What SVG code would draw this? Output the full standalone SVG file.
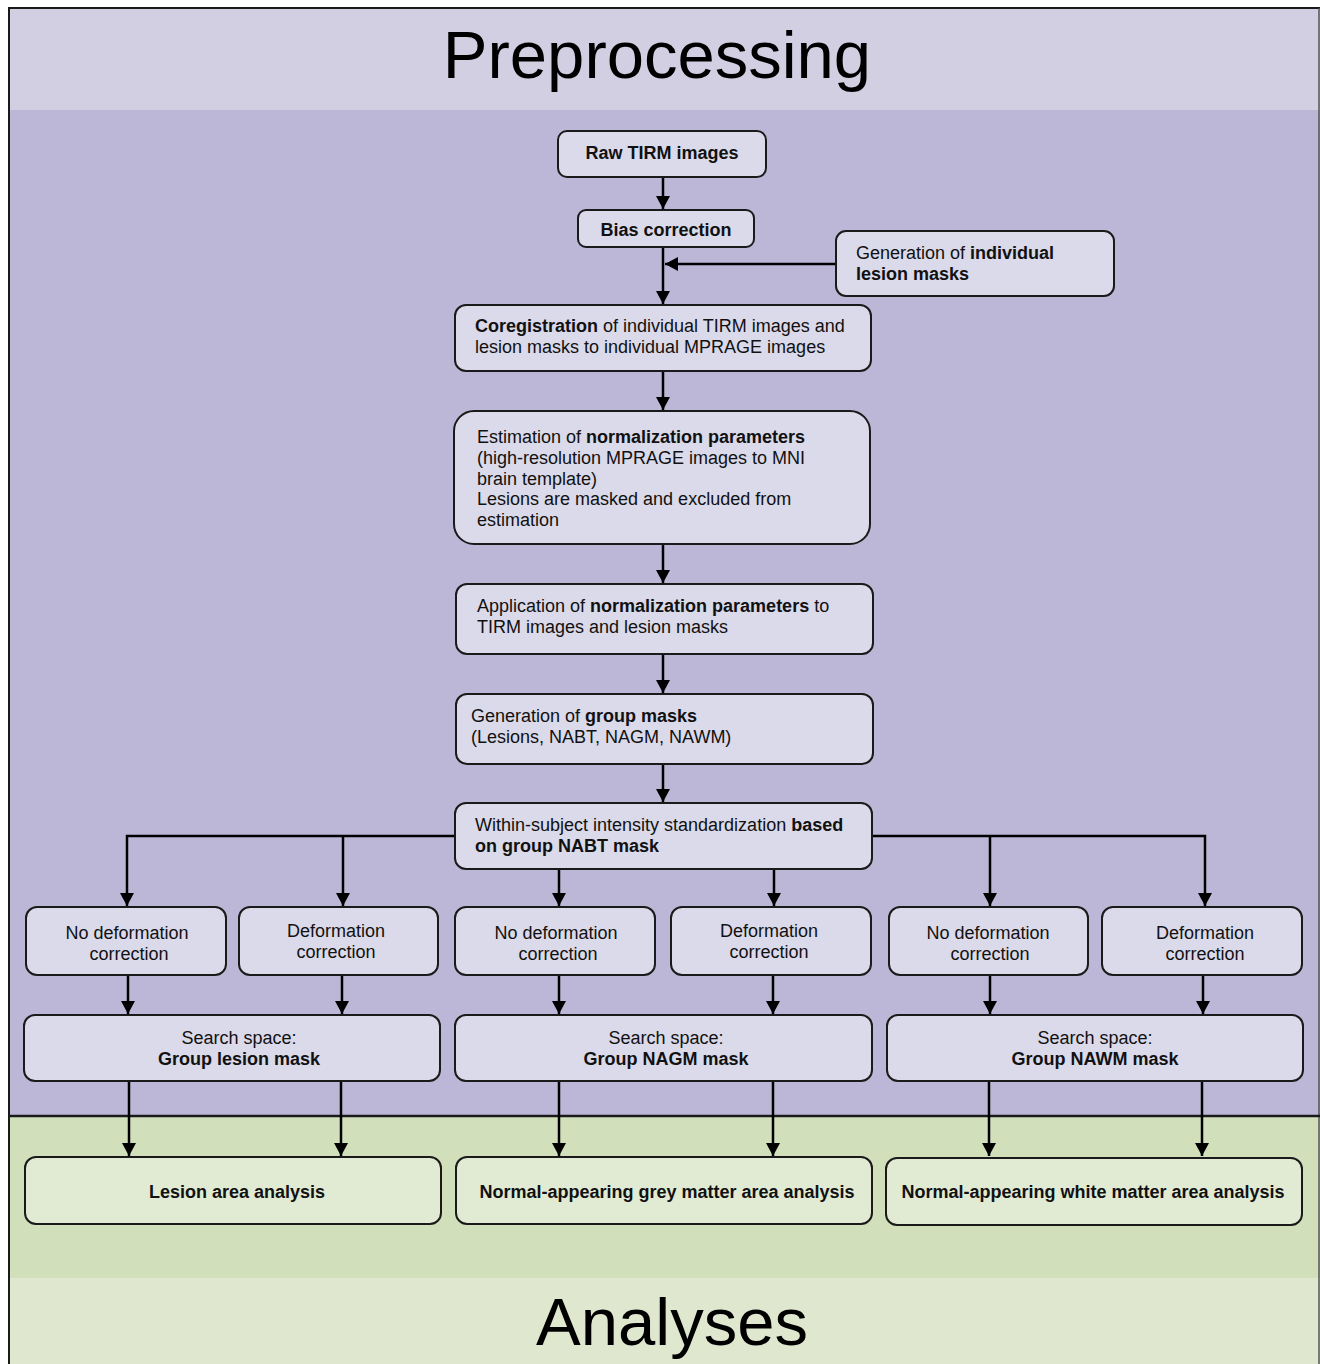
<svg xmlns="http://www.w3.org/2000/svg" width="1320" height="1364" viewBox="0 0 1320 1364">
<style>
.t{font-family:"Liberation Sans",Arial,sans-serif;font-size:18px;fill:#111;}
.b{font-weight:bold;}
.c{text-anchor:middle;}
.box{fill:#dbdaea;stroke:#1a1a1a;stroke-width:2;}
.gbox{fill:#e1ead3;stroke:#1a1a1a;stroke-width:2;}
.ln{fill:none;stroke:#000;stroke-width:2.5;}
.big{font-family:"Liberation Sans",Arial,sans-serif;font-size:67px;fill:#000;text-anchor:middle;}
</style>
<defs>
<marker id="ah" markerUnits="userSpaceOnUse" markerWidth="14" markerHeight="14" viewBox="0 0 14 14" refX="13" refY="7" orient="auto">
<path d="M0,0 L13,7 L0,14 Z" fill="#000"/>
</marker>
</defs>
<rect x="0" y="0" width="1320" height="1364" fill="#ffffff"/>
<g id="bands">
<rect x="9" y="8" width="1311" height="102" fill="#d2cfe3"/>
<rect x="9" y="110" width="1311" height="1006" fill="#bcb7d6"/>
<rect x="9" y="1116" width="1311" height="162" fill="#d1dfbb"/>
<rect x="9" y="1278" width="1311" height="86" fill="#dfe8cf"/>
<line x1="9" y1="8" x2="1320" y2="8" stroke="#1a1a1a" stroke-width="2"/>
<line x1="9" y1="7" x2="9" y2="1364" stroke="#1a1a1a" stroke-width="2"/>
<line x1="1319" y1="8" x2="1319" y2="1364" stroke="#555" stroke-width="1.5"/>
<line x1="9" y1="1116" x2="1320" y2="1116" stroke="#1a1a1a" stroke-width="2.5"/>
<text class="big" x="657" y="78">Preprocessing</text>
<text class="big" x="672" y="1345">Analyses</text>
</g>
<g id="connectors">
<line class="ln" x1="663" y1="177" x2="663" y2="209" marker-end="url(#ah)"/>
<line class="ln" x1="663" y1="247" x2="663" y2="304" marker-end="url(#ah)"/>
<line class="ln" x1="836" y1="264" x2="665" y2="264" marker-end="url(#ah)"/>
<line class="ln" x1="663" y1="371" x2="663" y2="410" marker-end="url(#ah)"/>
<line class="ln" x1="663" y1="544" x2="663" y2="583" marker-end="url(#ah)"/>
<line class="ln" x1="663" y1="654" x2="663" y2="693" marker-end="url(#ah)"/>
<line class="ln" x1="663" y1="764" x2="663" y2="802" marker-end="url(#ah)"/>
<polyline class="ln" points="455,836 127,836 127,906" marker-end="url(#ah)"/>
<line class="ln" x1="343" y1="836" x2="343" y2="906" marker-end="url(#ah)"/>
<polyline class="ln" points="872,836 1205,836 1205,906" marker-end="url(#ah)"/>
<line class="ln" x1="990" y1="836" x2="990" y2="906" marker-end="url(#ah)"/>
<line class="ln" x1="559" y1="869" x2="559" y2="906" marker-end="url(#ah)"/>
<line class="ln" x1="774" y1="869" x2="774" y2="906" marker-end="url(#ah)"/>
<line class="ln" x1="128" y1="975" x2="128" y2="1014" marker-end="url(#ah)"/>
<line class="ln" x1="342" y1="975" x2="342" y2="1014" marker-end="url(#ah)"/>
<line class="ln" x1="559" y1="975" x2="559" y2="1014" marker-end="url(#ah)"/>
<line class="ln" x1="773" y1="975" x2="773" y2="1014" marker-end="url(#ah)"/>
<line class="ln" x1="990" y1="975" x2="990" y2="1014" marker-end="url(#ah)"/>
<line class="ln" x1="1203" y1="975" x2="1203" y2="1014" marker-end="url(#ah)"/>
<line class="ln" x1="129" y1="1081" x2="129" y2="1156" marker-end="url(#ah)"/>
<line class="ln" x1="341" y1="1081" x2="341" y2="1156" marker-end="url(#ah)"/>
<line class="ln" x1="559" y1="1081" x2="559" y2="1156" marker-end="url(#ah)"/>
<line class="ln" x1="773" y1="1081" x2="773" y2="1156" marker-end="url(#ah)"/>
<line class="ln" x1="989" y1="1081" x2="989" y2="1156" marker-end="url(#ah)"/>
<line class="ln" x1="1202" y1="1081" x2="1202" y2="1156" marker-end="url(#ah)"/>
</g>
<g id="raw">
<rect class="box" x="558" y="131" width="208" height="46" rx="9"/>
<text class="t b c" x="662" y="159">Raw TIRM images</text>
</g>
<g id="bias">
<rect class="box" x="578" y="210" width="176" height="37" rx="8"/>
<text class="t b c" x="666" y="236">Bias correction</text>
</g>
<g id="genlesion">
<rect class="box" x="836" y="231" width="278" height="65" rx="10"/>
<text class="t" x="856" y="259">Generation of <tspan class="b">individual</tspan></text>
<text class="t b" x="856" y="280">lesion masks</text>
</g>
<g id="coreg">
<rect class="box" x="455" y="305" width="416" height="66" rx="11"/>
<text class="t" x="475" y="332"><tspan class="b">Coregistration</tspan> of individual TIRM images and</text>
<text class="t" x="475" y="353">lesion masks to individual MPRAGE images</text>
</g>
<g id="estim">
<rect class="box" x="454" y="411" width="416" height="133" rx="20"/>
<text class="t" x="477" y="443">Estimation of <tspan class="b">normalization parameters</tspan></text>
<text class="t" x="477" y="464">(high-resolution MPRAGE images to MNI</text>
<text class="t" x="477" y="485">brain template)</text>
<text class="t" x="477" y="505">Lesions are masked and excluded from</text>
<text class="t" x="477" y="526">estimation</text>
</g>
<g id="applic">
<rect class="box" x="456" y="584" width="417" height="70" rx="11"/>
<text class="t" x="477" y="612">Application of <tspan class="b">normalization parameters</tspan> to</text>
<text class="t" x="477" y="633">TIRM images and lesion masks</text>
</g>
<g id="groupmasks">
<rect class="box" x="456" y="694" width="417" height="70" rx="11"/>
<text class="t" x="471" y="722">Generation of <tspan class="b">group masks</tspan></text>
<text class="t" x="471" y="743">(Lesions, NABT, NAGM, NAWM)</text>
</g>
<g id="within">
<rect class="box" x="455" y="803" width="417" height="66" rx="11"/>
<text class="t" x="475" y="831">Within-subject intensity standardization <tspan class="b">based</tspan></text>
<text class="t b" x="475" y="852">on group NABT mask</text>
</g>
<g id="nodef1">
<rect class="box" x="26" y="907" width="200" height="68" rx="11"/>
<text class="t c" x="127" y="939">No deformation</text>
<text class="t c" x="129" y="960">correction</text>
</g>
<g id="def1">
<rect class="box" x="239" y="907" width="199" height="68" rx="11"/>
<text class="t c" x="336" y="937">Deformation</text>
<text class="t c" x="336" y="958">correction</text>
</g>
<g id="nodef2">
<rect class="box" x="455" y="907" width="200" height="68" rx="11"/>
<text class="t c" x="556" y="939">No deformation</text>
<text class="t c" x="558" y="960">correction</text>
</g>
<g id="def2">
<rect class="box" x="671" y="907" width="200" height="68" rx="11"/>
<text class="t c" x="769" y="937">Deformation</text>
<text class="t c" x="769" y="958">correction</text>
</g>
<g id="nodef3">
<rect class="box" x="889" y="907" width="199" height="68" rx="11"/>
<text class="t c" x="988" y="939">No deformation</text>
<text class="t c" x="990" y="960">correction</text>
</g>
<g id="def3">
<rect class="box" x="1102" y="907" width="200" height="68" rx="11"/>
<text class="t c" x="1205" y="939">Deformation</text>
<text class="t c" x="1205" y="960">correction</text>
</g>
<g id="search1">
<rect class="box" x="24" y="1015" width="416" height="66" rx="11"/>
<text class="t c" x="239" y="1044">Search space:</text>
<text class="t b c" x="239" y="1065">Group lesion mask</text>
</g>
<g id="search2">
<rect class="box" x="455" y="1015" width="417" height="66" rx="11"/>
<text class="t c" x="666" y="1044">Search space:</text>
<text class="t b c" x="666" y="1065">Group NAGM mask</text>
</g>
<g id="search3">
<rect class="box" x="887" y="1015" width="416" height="66" rx="11"/>
<text class="t c" x="1095" y="1044">Search space:</text>
<text class="t b c" x="1095" y="1065">Group NAWM mask</text>
</g>
<g id="lesionanalysis">
<rect class="gbox" x="25" y="1157" width="416" height="67" rx="11"/>
<text class="t b c" x="237" y="1198">Lesion area analysis</text>
</g>
<g id="greyanalysis">
<rect class="gbox" x="456" y="1157" width="416" height="67" rx="11"/>
<text class="t b c" x="667" y="1198">Normal-appearing grey matter area analysis</text>
</g>
<g id="whiteanalysis">
<rect class="gbox" x="886" y="1158" width="416" height="67" rx="11"/>
<text class="t b c" x="1093" y="1198">Normal-appearing white matter area analysis</text>
</g>
</svg>
